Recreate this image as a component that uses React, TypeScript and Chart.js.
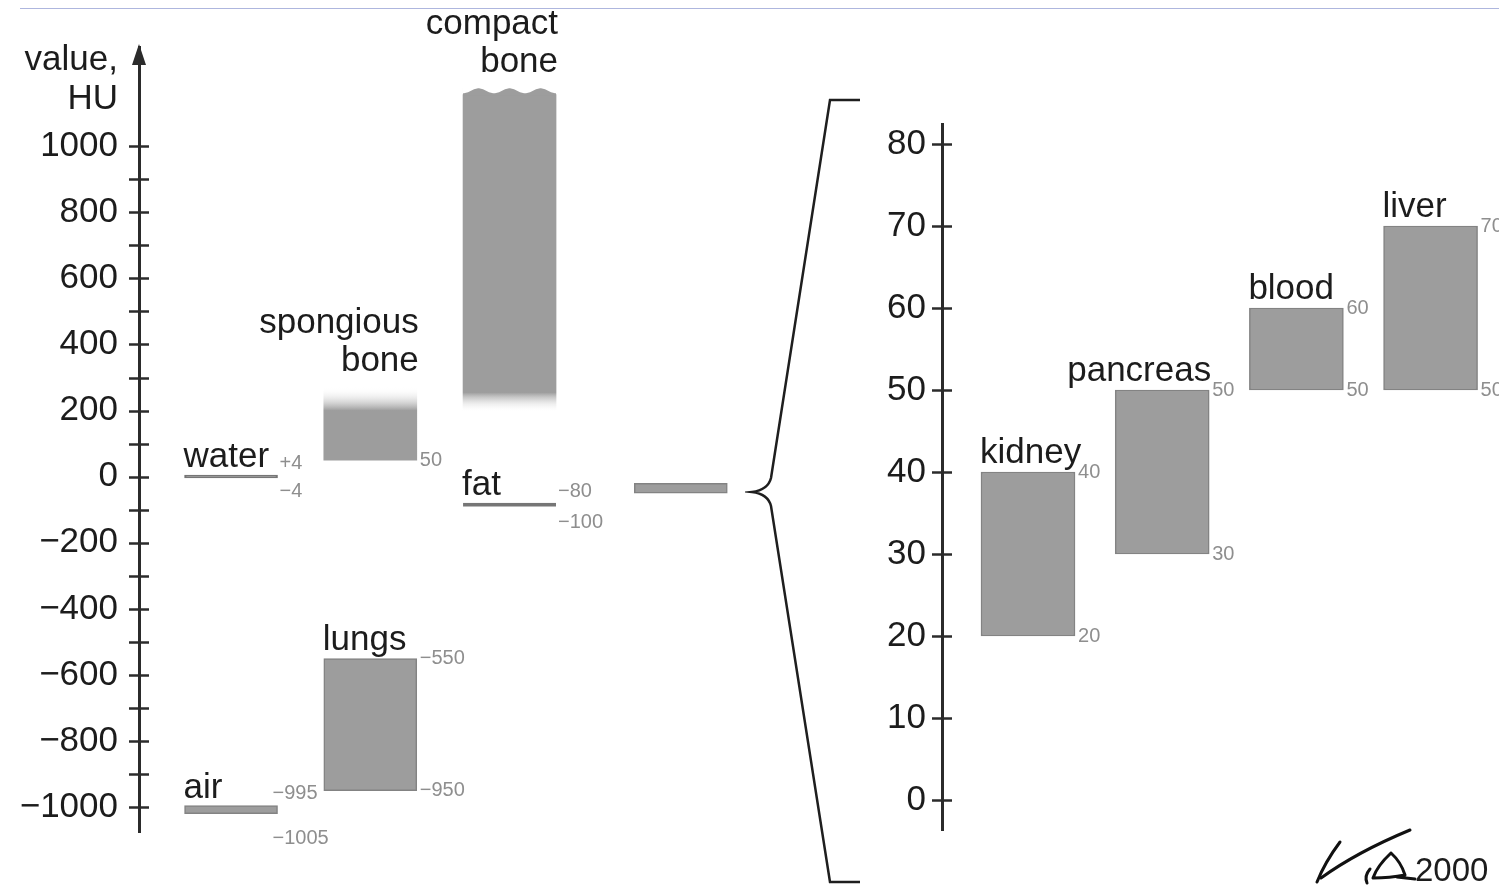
import React, { useEffect, useRef } from 'react';
import { Chart, registerables } from 'chart.js';

Chart.register(...registerables);

const FONT = "'Liberation Sans', Arial, Helvetica, sans-serif";

// ---------- left panel: whole Hounsfield scale ----------
const hudNames = ['air', 'water', 'lungs', 'spongious bone', 'fat', 'compact bone', 'soft tissue'];
const hudCaptions = ['air', 'water', 'lungs', 'spongious\nbone', 'fat', 'compact\nbone', ''];
const hudLow = [-1005, -4, -950, 50, -100, 195, -50];
const hudHigh = [-995, 4, -550, 270, -80, 1175, -20];
// value at which the solid part turns into a fade (uncertain range end)
const hudFadeFrom: (number | null)[] = [null, null, null, 200, null, 255, null];
const hudColumn = [0, 0, 1, 1, 2, 2, 3.23];
const hudHighText = ['\u2212995', '+4', '\u2212550', '', '\u221280', '', ''];
const hudLowText = ['\u22121005', '\u22124', '\u2212950', '50', '\u2212100', '', ''];
const hudTickValues = [-1000, -900, -800, -700, -600, -500, -400, -300, -200, -100, 0, 100, 200, 300, 400, 500, 600, 700, 800, 900, 1000];
const hudTickLabels = ['\u22121000', '', '\u2212800', '', '\u2212600', '', '\u2212400', '', '\u2212200', '', '0', '', '200', '', '400', '', '600', '', '800', '', '1000'];
const hudAxisTitle = ['value,', 'HU'];

// ---------- right panel: 0 ... 80 HU zoom ----------
const softNames = ['kidney', 'pancreas', 'blood', 'liver'];
const softLow = [20, 30, 50, 50];
const softHigh = [40, 50, 60, 70];
const softTickValues = [0, 10, 20, 30, 40, 50, 60, 70, 80];
const softTickLabels = ['0', '10', '20', '30', '40', '50', '60', '70', '80'];
const signatureYear = '2000';

// ---------- styles ----------
const BAR = '#9d9d9d';
const EDGE = '#838383';
const LINE = '#767676';
const AXIS = '#2b2b2b';
const TEXT = '#1c1c1c';
const NUM = '#8e8e8e';
const rightAligned = new Set(['spongious bone', 'compact bone', 'pancreas']);
const minLength: Record<string, number> = { air: 8, water: 3 };
const drawnAsLine = new Set(['water', 'fat']);
const wavyTop = 'compact bone';

function fadeFill(solidVal: number, endVal: number) {
  return (ctx: any) => {
    const chart = ctx.chart;
    if (!chart.chartArea) return BAR;
    const y = chart.scales.y;
    const y0 = y.getPixelForValue(solidVal);
    const y1 = y.getPixelForValue(endVal);
    const g = chart.ctx.createLinearGradient(0, y0, 0, y1);
    g.addColorStop(0, BAR);
    g.addColorStop(1, 'rgba(255,255,255,0)');
    return g;
  };
}

function barBox(el: any) {
  const p = el.getProps(['x', 'y', 'base', 'width'], true);
  return {
    cx: p.x,
    left: p.x - p.width / 2,
    right: p.x + p.width / 2,
    top: Math.min(p.y, p.base),
    bottom: Math.max(p.y, p.base),
  };
}

function drawCaption(ctx: CanvasRenderingContext2D, text: string, box: any, alignRight: boolean, gap: number) {
  if (!text) return;
  const lines = text.split('\n');
  ctx.font = `35px ${FONT}`;
  ctx.fillStyle = TEXT;
  ctx.textBaseline = 'alphabetic';
  ctx.textAlign = alignRight ? 'right' : 'left';
  const x = alignRight ? box.right + 2 : box.left - 1;
  const lh = 38;
  lines.forEach((ln, k) => {
    ctx.fillText(ln, x, box.top - gap - (lines.length - 1 - k) * lh);
  });
}

function drawRangeNumbers(ctx: CanvasRenderingContext2D, hi: string, lo: string, box: any, name: string) {
  ctx.font = `20px ${FONT}`;
  ctx.fillStyle = NUM;
  ctx.textAlign = 'left';
  const h = box.bottom - box.top;
  if (h < 12) {
    const isAir = name === 'air';
    const x = isAir ? box.right - 5 : box.right + 2;
    if (hi) { ctx.textBaseline = 'bottom'; ctx.fillText(hi, x, box.top - 2); }
    if (lo) { ctx.textBaseline = 'top'; ctx.fillText(lo, x, box.bottom + (isAir ? 15 : 3)); }
  } else {
    const x = box.right + 3;
    ctx.textBaseline = 'middle';
    if (hi) ctx.fillText(hi, x, box.top);
    if (lo) ctx.fillText(lo, x, box.bottom);
  }
}

function drawCrossTicks(chart: any) {
  const { ctx, chartArea, scales } = chart;
  const y = scales.y;
  const ax = chartArea.left;
  ctx.strokeStyle = AXIS;
  ctx.lineWidth = 2.5;
  y.ticks.forEach((t: any) => {
    const py = Math.round(y.getPixelForValue(t.value)) + 0.5;
    ctx.beginPath();
    ctx.moveTo(ax - 10, py);
    ctx.lineTo(ax + 10, py);
    ctx.stroke();
  });
}

const hudDecor = {
  id: 'hudDecor',
  afterDatasetsDraw(chart: any) {
    const { ctx, chartArea } = chart;
    ctx.save();
    drawCrossTicks(chart);
    // arrow head
    const ax = chartArea.left;
    ctx.fillStyle = AXIS;
    ctx.beginPath();
    ctx.moveTo(ax, chartArea.top - 3);
    ctx.lineTo(ax - 7, chartArea.top + 18);
    ctx.lineTo(ax + 7, chartArea.top + 18);
    ctx.closePath();
    ctx.fill();
    // axis title
    ctx.font = `35px ${FONT}`;
    ctx.fillStyle = TEXT;
    ctx.textAlign = 'right';
    ctx.textBaseline = 'alphabetic';
    ctx.fillText(hudAxisTitle[0], ax - 21, 70);
    ctx.fillText(hudAxisTitle[1], ax - 21, 109);

    hudNames.forEach((name, i) => {
      const el = chart.getDatasetMeta(i).data[0];
      if (!el) return;
      const box = barBox(el);
      if (name === wavyTop) {
        const a = 2.5;
        const period = 31;
        ctx.fillStyle = '#ffffff';
        ctx.fillRect(box.left - 1, box.top - 1, box.right - box.left + 2, 2 * a + 2);
        ctx.beginPath();
        ctx.moveTo(box.left, box.top + 2 * a + 2);
        for (let px = box.left; px <= box.right; px += 1) {
          const th = (2 * Math.PI * (px - box.cx)) / period;
          ctx.lineTo(px, box.top + a * (1 - Math.cos(th)));
        }
        ctx.lineTo(box.right, box.top + 2 * a + 2);
        ctx.closePath();
        ctx.fillStyle = BAR;
        ctx.fill();
      }
      const faded = hudFadeFrom[i] !== null;
      drawCaption(ctx, hudCaptions[i], box, rightAligned.has(name), faded ? 16 : 8);
      drawRangeNumbers(ctx, hudHighText[i], hudLowText[i], box, name);
    });
    ctx.restore();
  },
};

const softDecor = {
  id: 'softDecor',
  afterDatasetsDraw(chart: any) {
    const { ctx } = chart;
    const meta = chart.getDatasetMeta(0);
    ctx.save();
    drawCrossTicks(chart);
    softNames.forEach((name, i) => {
      const el = meta.data[i];
      if (!el) return;
      const box = barBox(el);
      drawCaption(ctx, name, box, rightAligned.has(name), 9);
      drawRangeNumbers(ctx, String(softHigh[i]), String(softLow[i]), box, name);
    });

    // curly brace linking the soft-tissue bar to this zoomed axis
    ctx.strokeStyle = '#1e1e1e';
    ctx.lineWidth = 2.5;
    ctx.lineJoin = 'miter';
    ctx.beginPath();
    ctx.moveTo(115, 100);
    ctx.lineTo(85, 100);
    ctx.lineTo(26, 478);
    ctx.quadraticCurveTo(23, 490, 7, 492);
    ctx.quadraticCurveTo(23, 494, 26, 506);
    ctx.lineTo(85, 882);
    ctx.lineTo(115, 882);
    ctx.stroke();

    // signature
    ctx.strokeStyle = '#111';
    ctx.lineWidth = 3;
    ctx.lineCap = 'round';
    ctx.lineJoin = 'round';
    ctx.beginPath();
    ctx.moveTo(595, 842);
    ctx.quadraticCurveTo(580, 862, 572, 882);
    ctx.stroke();
    ctx.beginPath();
    ctx.moveTo(576, 878);
    ctx.quadraticCurveTo(612, 852, 665, 830);
    ctx.stroke();
    ctx.beginPath();
    ctx.moveTo(625, 869);
    ctx.quadraticCurveTo(619, 876, 622, 883);
    ctx.stroke();
    ctx.beginPath();
    ctx.moveTo(646, 853);
    ctx.quadraticCurveTo(632, 866, 628, 878);
    ctx.quadraticCurveTo(645, 878, 660, 875);
    ctx.quadraticCurveTo(656, 862, 646, 853);
    ctx.moveTo(652, 877);
    ctx.lineTo(670, 879);
    ctx.stroke();

    ctx.font = `33px ${FONT}`;
    ctx.fillStyle = TEXT;
    ctx.textAlign = 'left';
    ctx.textBaseline = 'alphabetic';
    ctx.fillText(signatureYear, 670, 881);
    ctx.restore();
  },
};

function yAxis(min: number, max: number, values: number[], labels: string[], width: number, pad: number) {
  return {
    type: 'linear',
    min,
    max,
    bounds: 'data',
    stacked: false,
    afterBuildTicks: (s: any) => {
      s.ticks = values.map((v) => ({ value: v }));
    },
    afterFit: (s: any) => {
      s.width = width;
    },
    grid: { display: false, drawTicks: false },
    border: { display: true, color: AXIS, width: 3 },
    ticks: {
      autoSkip: false,
      padding: pad,
      color: TEXT,
      font: { size: 35, family: FONT },
      callback: (_v: any, i: number) => labels[i],
    },
  };
}

function baseOptions(padTop: number, padBottom: number) {
  return {
    animation: false,
    responsive: false,
    maintainAspectRatio: false,
    events: [],
    layout: { padding: { top: padTop, bottom: padBottom, left: 0, right: 0 } },
    plugins: { legend: { display: false }, tooltip: { enabled: false }, title: { display: false } },
  };
}

export default function App() {
  const leftRef = useRef<HTMLCanvasElement>(null);
  const rightRef = useRef<HTMLCanvasElement>(null);

  useEffect(() => {
    const hudDatasets = hudNames.map((name, i) => {
      const f = hudFadeFrom[i];
      let fill: any = BAR;
      if (f !== null) {
        const end = Math.abs(f - hudHigh[i]) < Math.abs(f - hudLow[i]) ? hudHigh[i] : hudLow[i];
        fill = fadeFill(f, end);
      }
      const base: any = {
        label: name,
        stack: 'hu',
        data: [{ x: hudColumn[i], y: [hudLow[i], hudHigh[i]] }],
        backgroundColor: fill,
        borderColor: EDGE,
        borderWidth: f === null ? 1.5 : 0,
        borderSkipped: false,
        barThickness: 93,
        minBarLength: minLength[name] || 0,
      };
      if (drawnAsLine.has(name)) {
        if (name === 'fat') {
          base.backgroundColor = 'rgba(0,0,0,0)';
          base.borderColor = LINE;
          base.borderWidth = { top: 3, bottom: 0, left: 0, right: 0 };
        } else {
          base.backgroundColor = LINE;
          base.borderColor = LINE;
        }
      }
      return base;
    });

    const left = new Chart(leftRef.current as HTMLCanvasElement, {
      type: 'bar',
      data: { datasets: hudDatasets },
      options: {
        ...(baseOptions(47, 53) as any),
        scales: {
          x: { type: 'linear', display: false, min: -0.661, max: 3.691, offset: false, bounds: 'data' },
          y: yAxis(-1075, 1300, hudTickValues, hudTickLabels, 139, 21) as any,
        },
      },
      plugins: [hudDecor],
    } as any);

    const right = new Chart(rightRef.current as HTMLCanvasElement, {
      type: 'bar',
      data: {
        datasets: [
          {
            label: 'HU range (zoom)',
            data: softNames.map((_, i) => ({ x: i, y: [softLow[i], softHigh[i]] })) as any,
            backgroundColor: BAR,
            borderColor: EDGE,
            borderWidth: 1.5,
            borderSkipped: false,
            barThickness: 94,
          } as any,
        ],
      },
      options: {
        ...(baseOptions(124, 55) as any),
        scales: {
          x: { type: 'linear', display: false, min: -0.641, max: 3.51, offset: false, bounds: 'data' },
          y: yAxis(-3.66, 82.44, softTickValues, softTickLabels, 197, 16) as any,
        },
      },
      plugins: [softDecor],
    } as any);

    return () => {
      left.destroy();
      right.destroy();
    };
  }, []);

  return (
    <div style={{ position: 'absolute', left: 0, top: 0, width: 1499, height: 885, background: '#ffffff', overflow: 'hidden' }}>
      <div style={{ position: 'absolute', left: 20, top: 8, width: 1479, height: 1, background: '#aeb6de' }} />
      <canvas
        ref={leftRef}
        width={745}
        height={885}
        style={{ position: 'absolute', left: 0, top: 0, width: 745, height: 885 }}
      />
      <canvas
        ref={rightRef}
        width={754}
        height={885}
        style={{ position: 'absolute', left: 745, top: 0, width: 754, height: 885 }}
      />
    </div>
  );
}
